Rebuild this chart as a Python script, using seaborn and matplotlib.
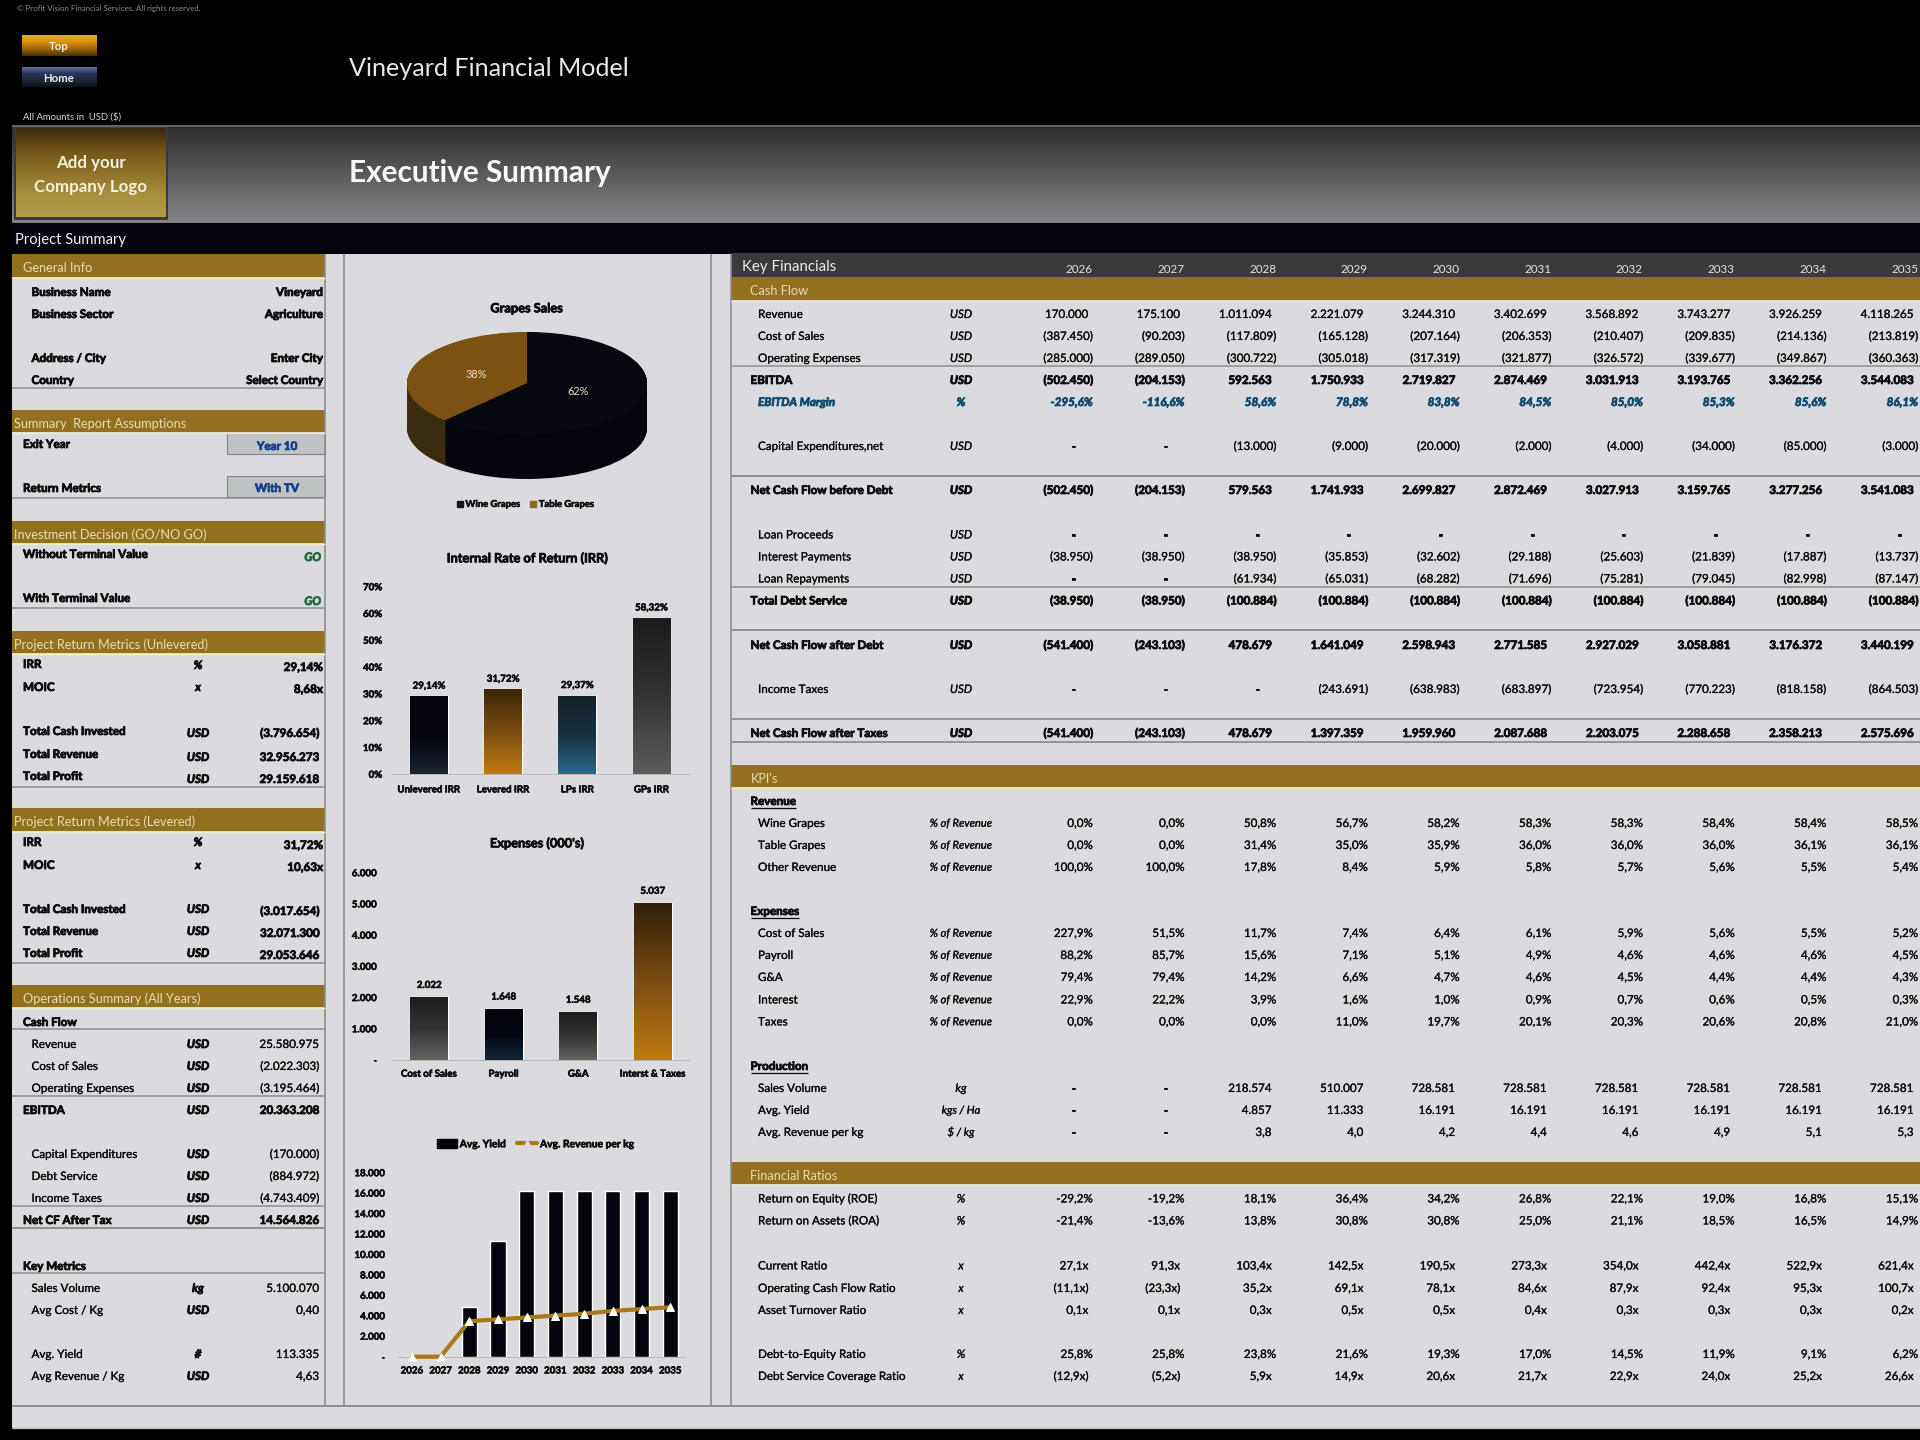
import numpy as np
import pandas as pd
import matplotlib
matplotlib.use("Agg")
import matplotlib.pyplot as plt
import matplotlib.patheffects as pe
from matplotlib.colors import LinearSegmentedColormap
from matplotlib.lines import Line2D
from matplotlib.patches import Patch, Rectangle
import seaborn as sns

# ---------- chart data ----------
pie_labels = ["Wine Grapes", "Table Grapes"]
pie_values = [62, 38]
irr_cats = ["Unlevered IRR", "Levered IRR", "LPs IRR", "GPs IRR"]
irr_values = [29.14, 31.72, 29.37, 58.32]
irr_labels = ["29,14%", "31,72%", "29,37%", "58,32%"]
exp_cats = ["Cost of Sales", "Payroll", "G&A", "Interst & Taxes"]
exp_values = [2022, 1648, 1548, 5037]
exp_labels = ["2.022", "1.648", "1.548", "5.037"]
years = ["2026", "2027", "2028", "2029", "2030", "2031", "2032", "2033", "2034", "2035"]
avg_yield = [0, 0, 4857, 11333, 16191, 16191, 16191, 16191, 16191, 16191]
avg_rev_kg = [0, 0, 3.8, 4.0, 4.2, 4.4, 4.6, 4.9, 5.1, 5.3]

# ---------- key financials ----------
cf_revenue = ["170.000", "175.100", "1.011.094", "2.221.079", "3.244.310", "3.402.699", "3.568.892", "3.743.277", "3.926.259", "4.118.265"]
cf_cos = ["(387.450)", "(90.203)", "(117.809)", "(165.128)", "(207.164)", "(206.353)", "(210.407)", "(209.835)", "(214.136)", "(213.819)"]
cf_opex = ["(285.000)", "(289.050)", "(300.722)", "(305.018)", "(317.319)", "(321.877)", "(326.572)", "(339.677)", "(349.867)", "(360.363)"]
cf_ebitda = ["(502.450)", "(204.153)", "592.563", "1.750.933", "2.719.827", "2.874.469", "3.031.913", "3.193.765", "3.362.256", "3.544.083"]
cf_margin = ["-295,6%", "-116,6%", "58,6%", "78,8%", "83,8%", "84,5%", "85,0%", "85,3%", "85,6%", "86,1%"]
cf_capex = ["-", "-", "(13.000)", "(9.000)", "(20.000)", "(2.000)", "(4.000)", "(34.000)", "(85.000)", "(3.000)"]
cf_before_debt = ["(502.450)", "(204.153)", "579.563", "1.741.933", "2.699.827", "2.872.469", "3.027.913", "3.159.765", "3.277.256", "3.541.083"]
cf_loan = ["-"] * 10
cf_interest = ["(38.950)", "(38.950)", "(38.950)", "(35.853)", "(32.602)", "(29.188)", "(25.603)", "(21.839)", "(17.887)", "(13.737)"]
cf_repay = ["-", "-", "(61.934)", "(65.031)", "(68.282)", "(71.696)", "(75.281)", "(79.045)", "(82.998)", "(87.147)"]
cf_service = ["(38.950)", "(38.950)", "(100.884)", "(100.884)", "(100.884)", "(100.884)", "(100.884)", "(100.884)", "(100.884)", "(100.884)"]
cf_after_debt = ["(541.400)", "(243.103)", "478.679", "1.641.049", "2.598.943", "2.771.585", "2.927.029", "3.058.881", "3.176.372", "3.440.199"]
cf_taxes = ["-", "-", "-", "(243.691)", "(638.983)", "(683.897)", "(723.954)", "(770.223)", "(818.158)", "(864.503)"]
cf_after_tax = ["(541.400)", "(243.103)", "478.679", "1.397.359", "1.959.960", "2.087.688", "2.203.075", "2.288.658", "2.358.213", "2.575.696"]

kpi_wine = ["0,0%", "0,0%", "50,8%", "56,7%", "58,2%", "58,3%", "58,3%", "58,4%", "58,4%", "58,5%"]
kpi_table = ["0,0%", "0,0%", "31,4%", "35,0%", "35,9%", "36,0%", "36,0%", "36,0%", "36,1%", "36,1%"]
kpi_other = ["100,0%", "100,0%", "17,8%", "8,4%", "5,9%", "5,8%", "5,7%", "5,6%", "5,5%", "5,4%"]
kpi_cos = ["227,9%", "51,5%", "11,7%", "7,4%", "6,4%", "6,1%", "5,9%", "5,6%", "5,5%", "5,2%"]
kpi_payroll = ["88,2%", "85,7%", "15,6%", "7,1%", "5,1%", "4,9%", "4,6%", "4,6%", "4,6%", "4,5%"]
kpi_ga = ["79,4%", "79,4%", "14,2%", "6,6%", "4,7%", "4,6%", "4,5%", "4,4%", "4,4%", "4,3%"]
kpi_interest = ["22,9%", "22,2%", "3,9%", "1,6%", "1,0%", "0,9%", "0,7%", "0,6%", "0,5%", "0,3%"]
kpi_taxes = ["0,0%", "0,0%", "0,0%", "11,0%", "19,7%", "20,1%", "20,3%", "20,6%", "20,8%", "21,0%"]
kpi_volume = ["-", "-", "218.574", "510.007", "728.581", "728.581", "728.581", "728.581", "728.581", "728.581"]
kpi_yield = ["-", "-", "4.857", "11.333", "16.191", "16.191", "16.191", "16.191", "16.191", "16.191"]
kpi_rev_kg = ["-", "-", "3,8", "4,0", "4,2", "4,4", "4,6", "4,9", "5,1", "5,3"]

fr_roe = ["-29,2%", "-19,2%", "18,1%", "36,4%", "34,2%", "26,8%", "22,1%", "19,0%", "16,8%", "15,1%"]
fr_roa = ["-21,4%", "-13,6%", "13,8%", "30,8%", "30,8%", "25,0%", "21,1%", "18,5%", "16,5%", "14,9%"]
fr_current = ["27,1x", "91,3x", "103,4x", "142,5x", "190,5x", "273,3x", "354,0x", "442,4x", "522,9x", "621,4x"]
fr_ocf = ["(11,1x)", "(23,3x)", "35,2x", "69,1x", "78,1x", "84,6x", "87,9x", "92,4x", "95,3x", "100,7x"]
fr_turnover = ["0,1x", "0,1x", "0,3x", "0,5x", "0,5x", "0,4x", "0,3x", "0,3x", "0,3x", "0,2x"]
fr_de = ["25,8%", "25,8%", "23,8%", "21,6%", "19,3%", "17,0%", "14,5%", "11,9%", "9,1%", "6,2%"]
fr_dscr = ["(12,9x)", "(5,2x)", "5,9x", "14,9x", "20,6x", "21,7x", "22,9x", "24,0x", "25,2x", "26,6x"]

# ---------- styling ----------
sns.set_theme(style="white")
plt.rcParams["font.family"] = ["Lato", "DejaVu Sans"]
plt.rcParams["axes.unicode_minus"] = False

W, H = 1920, 1440
PANEL = "#DBDADF"
GOLD = "#93701F"
BAR_TXT = "#E6DDB0"
LINE = "#8E8E8E"
INK = "#0B0B0B"
TEAL = "#0F4C6E"
BLUE = "#123F8C"
GREEN = "#1A6B3C"
FS = 8.4

fig = plt.figure(figsize=(W / 100, H / 100), dpi=100, facecolor="black")
bg = fig.add_axes([0, 0, 1, 1], zorder=0)
bg.set_axis_off()


def heavy(c, w):
    return [pe.withStroke(linewidth=w, foreground=c)]


def grad(ax, x0, y0, x1, y1, stops, z=1):
    cmap = LinearSegmentedColormap.from_list("g", stops)
    return ax.imshow(np.linspace(0, 1, 256).reshape(-1, 1), extent=(x0, x1, y1, y0),
                     cmap=cmap, aspect="auto", zorder=z, interpolation="bilinear")


def rect(x0, y0, x1, y1, c, z=1, **kw):
    bg.add_patch(Rectangle((x0, y0), x1 - x0, y1 - y0, facecolor=c, edgecolor=kw.pop("ec", "none"),
                           linewidth=kw.pop("lw", 0), zorder=z, **kw))


def T(x, y, s, size=FS, c=INK, w="normal", ha="left", st="normal", z=5):
    base = y + 0.34 * size * 100 / 72
    t = bg.text(x, base, s, fontsize=size, color=c, fontweight=w, ha=ha, va="baseline", fontstyle=st, zorder=z)
    if c in (INK, TEAL, BLUE, GREEN):
        t.set_path_effects(heavy(c, 0.55 if w == "bold" else 0.18))
    return t


def hl(y, x0, x1, lw=1.1, c=LINE):
    bg.plot([x0, x1], [y, y], color=c, lw=lw, zorder=3, solid_capstyle="butt")


def vl(x, y0, y1, lw=1.1, c=LINE):
    bg.plot([x, x], [y0, y1], color=c, lw=lw, zorder=3, solid_capstyle="butt")


# ---------- frame ----------
rect(12, 222, W, 254, "#03040C")
rect(12, 254, W, 1428, PANEL)
grad(bg, 12, 125, W, 222, ["#2B2B2B", "#4A4A4C", "#6A6A6C", "#838385"])
hl(125.5, 12, W, 1.2, "#6E6E6E")
hl(221.5, 12, W, 1.2, "#8E8E94")
rect(14, 126, 168, 220, "#3A3A3A")
grad(bg, 16, 128, 166, 217, ["#3C2A0C", "#73531A", "#8F7228", "#A98F40", "#B49B48"], z=2)
grad(bg, 22, 35, 97, 56, ["#D9B02A", "#E08F0C", "#9A6408", "#4A3208"], z=2)
grad(bg, 22, 67, 97, 87, ["#6A72A8", "#26345A", "#1C2838", "#0C1018"], z=2)
for xv in (325, 344, 711, 731):
    vl(xv, 254, 1406, 1.2)
hl(1406, 12, W, 1.4)
hl(1428, 12, W, 1.0, "#B8B8B8")

T(17, 8, "© Profit Vision Financial Services. All rights reserved.", 5.7, "#8B8B8B")
T(59, 46, "Top", 8.2, "#F3EEDD", "bold", "center", z=6)
T(59, 78, "Home", 8.2, "#F0F0F0", "bold", "center", z=6)
T(23, 116, "All Amounts in  USD ($)", 6.8, "#D8D8D8")
T(349, 67, "Vineyard Financial Model", 18.1, "#E8E8E8")
T(349, 172, "Executive Summary", 21.4, "#FAFAFA", "bold")
T(91, 162, "Add your", 12.2, "#F6F2DC", "bold", "center", z=6)
T(91, 186, "Company Logo", 12.2, "#F6F2DC", "bold", "center", z=6)
T(15, 239, "Project Summary", 10.6, "#F2F2F2")

# ---------- left column ----------


def gold_bar(x0, x1, y0, y1, text, tx):
    rect(x0, y0, x1, y1, GOLD, z=2)
    hl(y1 + 0.5, x0, x1, 1.0, "#F2EBC6")
    T(tx, (y0 + y1) / 2 + 2.5, text, 9.2, BAR_TXT)


gold_bar(12, 325, 254, 277, "General Info", 23)
T(31.5, 292, "Business Name", FS, w="bold")
T(31.5, 314, "Business Sector", FS, w="bold")
T(31.5, 358, "Address / City", FS, w="bold")
T(31.5, 380, "Country", FS, w="bold")
T(323, 292, "Vineyard", FS, w="bold", ha="right")
T(323, 314, "Agriculture", FS, w="bold", ha="right")
T(323, 358, "Enter City", FS, w="bold", ha="right")
T(323, 380, "Select Country", FS, w="bold", ha="right")
hl(388, 12, 325)

gold_bar(12, 325, 410, 432, "Summary  Report Assumptions", 14)
rect(227, 433, 325, 454, "#BFC3C4", z=2, ec="#7F8285", lw=0.8)
rect(227, 476, 325, 497, "#BFC3C4", z=2, ec="#7F8285", lw=0.8)
T(23, 444, "Exit Year", FS, w="bold")
T(277, 446, "Year 10", FS, BLUE, "bold", "center")
T(23, 488, "Return Metrics", FS, w="bold")
T(277, 488, "With TV", FS, BLUE, "bold", "center")
hl(497.5, 12, 325)

gold_bar(12, 325, 521, 543, "Investment Decision (GO/NO GO)", 14)
T(23, 554, "Without Terminal Value", FS, w="bold")
T(23, 598, "With Terminal Value", FS, w="bold")
T(321, 557, "GO", FS, GREEN, "bold", "right", "italic")
T(321, 601, "GO", FS, GREEN, "bold", "right", "italic")
hl(608, 12, 325)

gold_bar(12, 325, 631, 653, "Project Return Metrics (Unlevered)", 14)
for lab, u, v, y1, y2, right in [
    ("IRR", "%", "29,14%", 664, 667, 323), ("MOIC", "x", "8,68x", 687, 689, 323),
    ("Total Cash Invested", "USD", "(3.796.654)", 731, 733, 319),
    ("Total Revenue", "USD", "32.956.273", 754, 757, 319),
    ("Total Profit", "USD", "29.159.618", 776, 779, 319)]:
    T(23, y1, lab, FS, w="bold")
    T(198, y2 - (2 if u != "USD" else 0), u, FS, w="bold", ha="center", st="italic")
    T(right, y2, v, FS, w="bold", ha="right")
hl(787, 12, 325)

gold_bar(12, 325, 808, 831, "Project Return Metrics (Levered)", 14)
for lab, u, v, y1, y2, right in [
    ("IRR", "%", "31,72%", 842, 845, 323), ("MOIC", "x", "10,63x", 865, 867, 323),
    ("Total Cash Invested", "USD", "(3.017.654)", 909, 911, 319),
    ("Total Revenue", "USD", "32.071.300", 931, 933, 319),
    ("Total Profit", "USD", "29.053.646", 953, 955, 319)]:
    T(23, y1, lab, FS, w="bold")
    T(198, y1, u, FS, w="bold", ha="center", st="italic")
    T(right, y2, v, FS, w="bold", ha="right")
hl(963, 12, 325)

gold_bar(12, 325, 985, 1007, "Operations Summary (All Years)", 23)
T(23, 1022, "Cash Flow", FS, w="bold")
hl(1029, 12, 325)
for lab, u, v, y, b in [
    ("Revenue", "USD", "25.580.975", 1044, False), ("Cost of Sales", "USD", "(2.022.303)", 1066, False),
    ("Operating Expenses", "USD", "(3.195.464)", 1088, False), ("EBITDA", "USD", "20.363.208", 1110, True),
    ("Capital Expenditures", "USD", "(170.000)", 1154, False), ("Debt Service", "USD", "(884.972)", 1176, False),
    ("Income Taxes", "USD", "(4.743.409)", 1198, False), ("Net CF After Tax", "USD", "14.564.826", 1220, True),
    ("Sales Volume", "kg", "5.100.070", 1288, False), ("Avg Cost / Kg", "USD", "0,40", 1310, False),
    ("Avg. Yield", "#", "113.335", 1354, False), ("Avg Revenue / Kg", "USD", "4,63", 1376, False)]:
    T(23 if b else 31.5, y, lab, FS, w="bold" if b else "normal")
    T(198, y, u, FS, w="bold", ha="center", st="italic")
    T(319, y, v, FS, w="bold" if b else "normal", ha="right")
hl(1096, 12, 325)
hl(1206, 12, 325)
hl(1228, 12, 325, 1.4)
T(23, 1266, "Key Metrics", FS, w="bold")
hl(1273, 12, 325)

# ---------- right column ----------
rect(731, 253, W, 277, "#3A3A3C", z=2)
T(742, 266, "Key Financials", 10.8, "#EDEDED")
col_right = [1092.7 + 91.7 * i for i in range(10)]
for xr, yr in zip(col_right, years):
    T(xr, 269, yr, FS, "#E6E6E6", ha="right")
gold_bar(731, W, 277, 300, "Cash Flow", 750.5)
gold_bar(731, W, 765, 787, "KPI's", 750.5)
gold_bar(731, W, 1162, 1184, "Financial Ratios", 750.5)


def row(y, label, unit, vals, bold=False, color=INK, italic=False, ratio=False):
    tw = "bold" if bold else "normal"
    st = "italic" if italic else "normal"
    T(750.5 if bold and not italic else 758, y, label, FS, color, tw, st=st)
    T(961, y, unit, FS - 0.4 if len(unit) > 3 else FS, color, tw, "center", "italic")
    for xr, v in zip(col_right, vals):
        if v == "-":
            T(xr - 19, y, v, FS, color, "bold", "center", st)
        elif ratio or not (v.endswith(")") or v.endswith("%")):
            T(xr - 4.5, y, v, FS, color, tw, "right", st)
        else:
            T(xr, y, v, FS, color, tw, "right", st)


row(314, "Revenue", "USD", cf_revenue)
row(336, "Cost of Sales", "USD", cf_cos)
row(358, "Operating Expenses", "USD", cf_opex)
row(380, "EBITDA", "USD", cf_ebitda, True)
row(402, "EBITDA Margin", "%", cf_margin, True, TEAL, True)
row(446, "Capital Expenditures,net", "USD", cf_capex)
row(490, "Net Cash Flow before Debt", "USD", cf_before_debt, True)
row(534.5, "Loan Proceeds", "USD", cf_loan)
row(556.5, "Interest Payments", "USD", cf_interest)
row(578.5, "Loan Repayments", "USD", cf_repay)
row(600.5, "Total Debt Service", "USD", cf_service, True)
row(645, "Net Cash Flow after Debt", "USD", cf_after_debt, True)
row(689, "Income Taxes", "USD", cf_taxes)
row(733, "Net Cash Flow after Taxes", "USD", cf_after_tax, True)
for y, lw in [(366, 1.1), (476, 1.5), (587, 1.1), (630, 1.3), (719, 1.3), (741.5, 1.3)]:
    hl(y, 731, W, lw)

row(823, "Wine Grapes", "% of Revenue", kpi_wine)
row(845, "Table Grapes", "% of Revenue", kpi_table)
row(867, "Other Revenue", "% of Revenue", kpi_other)
row(933, "Cost of Sales", "% of Revenue", kpi_cos)
row(955, "Payroll", "% of Revenue", kpi_payroll)
row(977, "G&A", "% of Revenue", kpi_ga)
row(999.5, "Interest", "% of Revenue", kpi_interest)
row(1021.5, "Taxes", "% of Revenue", kpi_taxes)
row(1088, "Sales Volume", "kg", kpi_volume, ratio=True)
row(1110, "Avg. Yield", "kgs / Ha", kpi_yield, ratio=True)
row(1132, "Avg. Revenue per kg", "$ / kg", kpi_rev_kg, ratio=True)
row(1198.5, "Return on Equity (ROE)", "%", fr_roe)
row(1220.5, "Return on Assets (ROA)", "%", fr_roa)
row(1265.5, "Current Ratio", "x", fr_current, ratio=True)
row(1288, "Operating Cash Flow Ratio", "x", fr_ocf, ratio=True)
row(1310, "Asset Turnover Ratio", "x", fr_turnover, ratio=True)
row(1354, "Debt-to-Equity Ratio", "%", fr_de)
row(1376, "Debt Service Coverage Ratio", "x", fr_dscr, ratio=True)

renderer = fig.canvas.get_renderer()
for y, s in [(801, "Revenue"), (911, "Expenses"), (1066, "Production")]:
    t = T(750.5, y, s, FS, w="bold")
    hl(y + 7, 750.5, 750.5 + t.get_window_extent(renderer).width, 0.9, INK)

bg.set_xlim(0, W)
bg.set_ylim(H, 0)


# ---------- charts ----------
def chart_ax(x0, y0, x1, y1, z=2):
    ax = fig.add_axes([x0 / W, 1 - y1 / H, (x1 - x0) / W, (y1 - y0) / H], zorder=z)
    ax.patch.set_alpha(0)
    return ax


def style_ax(ax):
    for s in ("top", "right", "left"):
        ax.spines[s].set_visible(False)
    ax.spines["bottom"].set_color("#BDB7AE")
    ax.spines["bottom"].set_linewidth(0.7)
    ax.tick_params(axis="both", length=0, labelsize=7.0, labelcolor=INK)
    for lb in ax.get_xticklabels() + ax.get_yticklabels():
        lb.set_fontweight("bold")
        lb.set_path_effects(heavy(INK, 0.4))
    ax.grid(False)
    ax.set_xlabel("")
    ax.set_ylabel("")


def gradient_bars(ax, stops_list):
    xl, yl = ax.get_xlim(), ax.get_ylim()
    for p, stops in zip(ax.patches, stops_list):
        x, y, w_, h_ = p.get_x(), p.get_y(), p.get_width(), p.get_height()
        cmap = LinearSegmentedColormap.from_list("b", stops)
        im = ax.imshow(np.linspace(0, 1, 128).reshape(-1, 1), extent=(x, x + w_, y, y + h_), cmap=cmap,
                       aspect="auto", zorder=3, origin="upper", vmin=0, vmax=1)
        im.set_clip_path(p)
    ax.set_xlim(xl)
    ax.set_ylim(yl)


def bold_bar_labels(ax, labels, pad):
    for t in ax.bar_label(ax.containers[0], labels=labels, fontsize=7.0, fontweight="bold", padding=pad, color=INK):
        t.set_path_effects(heavy(INK, 0.4))


# Pie with extruded side
T(526.5, 308, "Grapes Sales", 9.2, w="bold", ha="center")
pie_ax = chart_ax(407, 332, 647, 480)
depth_steps = np.linspace(0.88, 0.01, 60)
for d in depth_steps:
    pie_ax.pie(pie_values, startangle=90, counterclock=False, radius=1, center=(0, -d),
               colors=["#04050C", "#3B2B10"], frame=True, wedgeprops=dict(linewidth=0, edgecolor="none"))
wedges, _, autotexts = pie_ax.pie(pie_values, startangle=90, counterclock=False, radius=1, frame=True,
                                  colors=["#070810", "#7C5111"], autopct="%d%%", pctdistance=0.46,
                                  wedgeprops=dict(linewidth=0, edgecolor="none"),
                                  textprops=dict(fontsize=7.8, color="#EDE6C8"))
for side in pie_ax.spines.values():
    side.set_visible(False)
pie_ax.set_aspect("auto")
pie_ax.set_xlim(-1, 1)
pie_ax.set_ylim(-1.9, 1.0)
pie_ax.set_xticks([])
pie_ax.set_yticks([])
pie_leg = pie_ax.legend(handles=[Patch(color="#12141E", label=pie_labels[0]), Patch(color="#8A6A20", label=pie_labels[1])],
                        loc="center", bbox_to_anchor=(0.495, -0.165), ncol=2, frameon=False,
                        handlelength=0.6, handleheight=0.6, handletextpad=0.3, columnspacing=1.0,
                        prop=dict(size=6.8, weight="bold"))
for t in pie_leg.get_texts():
    t.set_color(INK)
    t.set_path_effects(heavy(INK, 0.4))

# IRR bars
T(527, 558, "Internal Rate of Return (IRR)", 9.2, w="bold", ha="center")
irr_ax = chart_ax(392, 586.7, 688.5, 774.3)
irr_df = pd.DataFrame({"metric": irr_cats, "value": irr_values})
sns.barplot(data=irr_df, x="metric", y="value", ax=irr_ax, color="#111111", width=0.51, saturation=1)
irr_ax.set_ylim(0, 70)
irr_ax.set_yticks(range(0, 71, 10))
irr_ax.set_yticklabels([f"{v}%" for v in range(0, 71, 10)])
style_ax(irr_ax)
irr_ax.tick_params(axis="y", pad=7)
irr_ax.tick_params(axis="x", pad=8)
bold_bar_labels(irr_ax, irr_labels, 4)
gradient_bars(irr_ax, [["#03040C", "#03040C", "#18242E"], ["#3A2508", "#7A4C10", "#C07A10"],
                       ["#14202C", "#16303E", "#2B6A8A"], ["#1B1B1B", "#333333", "#5C5C5C"]])

# Expense bars
T(537, 843, "Expenses (000's)", 9.2, w="bold", ha="center")
exp_ax = chart_ax(392, 872.7, 690, 1060)
exp_df = pd.DataFrame({"item": exp_cats, "value": exp_values})
sns.barplot(data=exp_df, x="item", y="value", ax=exp_ax, color="#111111", width=0.505, saturation=1)
exp_ax.set_ylim(0, 6000)
exp_ax.set_yticks(range(0, 6001, 1000))
exp_ax.set_yticklabels(["-"] + [f"{v:,}".replace(",", ".") for v in range(1000, 6001, 1000)])
style_ax(exp_ax)
exp_ax.tick_params(axis="y", pad=11)
exp_ax.tick_params(axis="x", pad=7)
bold_bar_labels(exp_ax, exp_labels, 5)
gradient_bars(exp_ax, [["#1C1C1C", "#333333", "#636363"], ["#03040C", "#03040C", "#12263A"],
                       ["#1C1C1C", "#333333", "#636363"], ["#2F2008", "#7A4C10", "#C07A10"]])

# Yield bars + revenue per kg line on a hidden secondary axis
yld_ax = chart_ax(397.5, 1172.7, 684.6, 1356.7)
yld_df = pd.DataFrame({"year": years, "value": avg_yield})
sns.barplot(data=yld_df, x="year", y="value", ax=yld_ax, color="#03040C", width=0.53, saturation=1)
yld_ax.set_ylim(0, 18000)
yld_ax.set_yticks(range(0, 18001, 2000))
yld_ax.set_yticklabels(["-"] + [f"{v:,}".replace(",", ".") for v in range(2000, 18001, 2000)])
style_ax(yld_ax)
yld_ax.tick_params(axis="y", pad=9)
yld_ax.tick_params(axis="x", pad=7)
twin = yld_ax.twinx()
twin.patch.set_alpha(0)
line_df = pd.DataFrame({"pos": np.arange(len(years)), "value": avg_rev_kg})
sns.lineplot(data=line_df, x="pos", y="value", ax=twin, color="#A9781A", lw=3, marker="^", markersize=6,
             markerfacecolor="white", markeredgecolor="white", sort=False, clip_on=False)
twin.set_ylim(0, 19.7)
twin.set_xlim(-0.5, len(years) - 0.5)
yld_ax.set_xlim(-0.5, len(years) - 0.5)
twin.set_xlabel("")
twin.set_ylabel("")
twin.set_yticks([])
twin.grid(False)
for s in twin.spines.values():
    s.set_visible(False)
yld_leg = twin.legend(handles=[Patch(color="#03040C", label="Avg. Yield"),
                               Line2D([], [], color="#A9781A", lw=3, marker="^", mfc="#DBDADF", mec="#DBDADF", ms=4,
                                      label="Avg. Revenue per kg")],
                      loc="center", bbox_to_anchor=(0.48, 1.154), ncol=2, frameon=False,
                      handlelength=2.0, handleheight=0.9, handletextpad=0.25, columnspacing=1.1,
                      prop=dict(size=7.4, weight="bold"))
for t in yld_leg.get_texts():
    t.set_color(INK)
    t.set_path_effects(heavy(INK, 0.4))

fig.savefig("out.png", dpi=100, facecolor="black")
